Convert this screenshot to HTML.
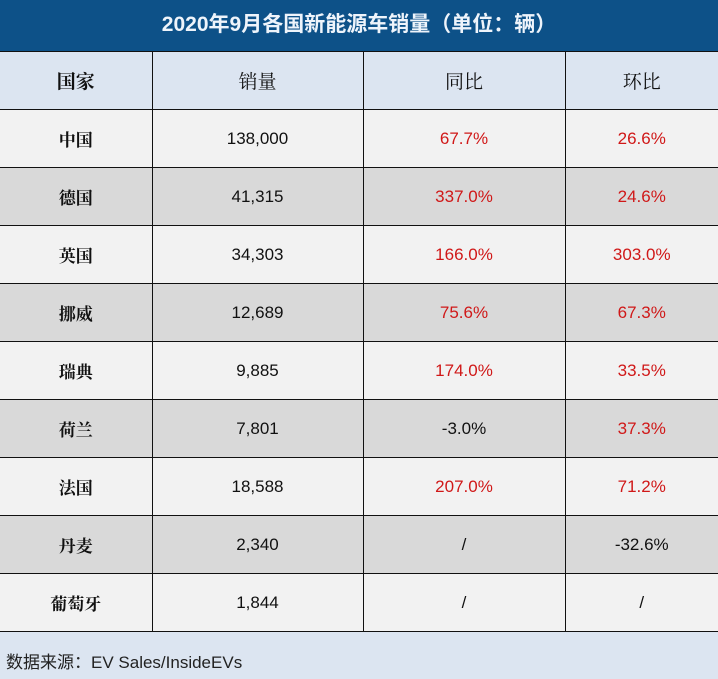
<!DOCTYPE html>
<html><head><meta charset="utf-8"><style>
body{margin:0;width:718px;height:679px;overflow:hidden;background:#dce5f1;font-family:"Liberation Sans","Noto Sans CJK SC",sans-serif}
#title{position:absolute;left:0;top:0;width:718px;height:52px;background:#0d5188;color:#eef4fb;font-size:21px;font-weight:bold;text-align:center;line-height:50px}
table{position:absolute;left:0;top:51px;border-collapse:collapse;width:718px}
td{border:1.5px solid #111;text-align:center;height:57px;padding:0;font-size:17px;color:#111}
tr td:first-child{border-left:none;font-weight:bold;font-family:"Noto Serif CJK SC","Liberation Serif",serif}
tr td:last-child{border-right:none}
tr.h td{background:#dce5f1;font-family:"Noto Serif CJK SC","Liberation Serif",serif;font-size:19px}
tr.l td{background:#f2f2f2}
tr.d td{background:#d9d9d9}
.r{color:#d01818}
#src{position:absolute;left:6px;top:648px;font-size:17px;color:#222;font-family:"Liberation Sans","Noto Sans CJK SC",sans-serif}
</style></head><body>
<div id="title">2020年9月各国新能源车销量（单位：辆）</div>
<table>
<colgroup><col style="width:152px"><col style="width:211px"><col style="width:202px"><col style="width:153px"></colgroup>
<tr class="h"><td>国家</td><td>销量</td><td>同比</td><td>环比</td></tr>
<tr class="l"><td>中国</td><td>138,000</td><td class="r">67.7%</td><td class="r">26.6%</td></tr>
<tr class="d"><td>德国</td><td>41,315</td><td class="r">337.0%</td><td class="r">24.6%</td></tr>
<tr class="l"><td>英国</td><td>34,303</td><td class="r">166.0%</td><td class="r">303.0%</td></tr>
<tr class="d"><td>挪威</td><td>12,689</td><td class="r">75.6%</td><td class="r">67.3%</td></tr>
<tr class="l"><td>瑞典</td><td>9,885</td><td class="r">174.0%</td><td class="r">33.5%</td></tr>
<tr class="d"><td>荷兰</td><td>7,801</td><td>-3.0%</td><td class="r">37.3%</td></tr>
<tr class="l"><td>法国</td><td>18,588</td><td class="r">207.0%</td><td class="r">71.2%</td></tr>
<tr class="d"><td>丹麦</td><td>2,340</td><td>/</td><td>-32.6%</td></tr>
<tr class="l"><td>葡萄牙</td><td>1,844</td><td>/</td><td>/</td></tr>
</table>
<div id="src">数据来源：EV Sales/InsideEVs</div>
</body></html>
